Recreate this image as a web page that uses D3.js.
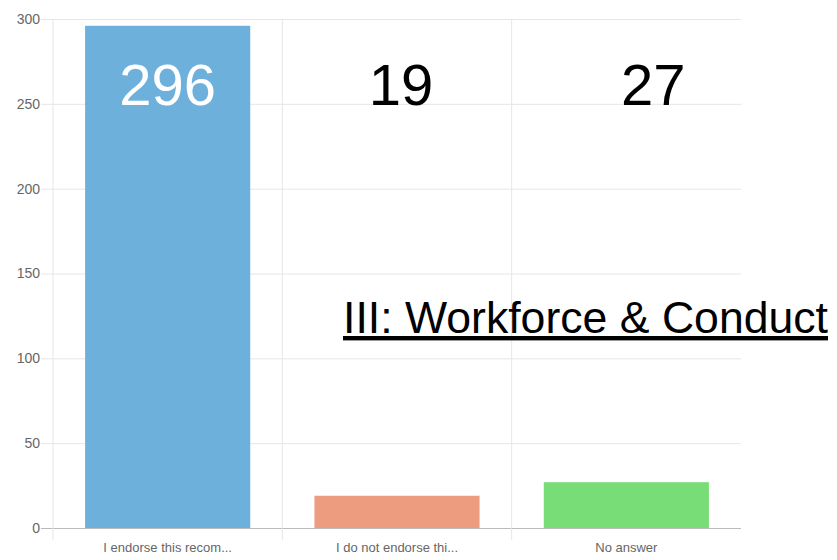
<!DOCTYPE html>
<html>
  <head>
    <meta charset='UTF-8'/>
    <script src="https://cdn.jsdelivr.net/npm/d3@7"></script>
    <style>
      body { margin: 0; background: white; }
      .tick text { font-family: "Liberation Sans", Arial, sans-serif; fill: #666; }
      .big { font-family: "Liberation Sans", Arial, sans-serif; font-size: 58px; }
      .title { font-family: "Liberation Sans", Arial, sans-serif; font-size: 44px; text-decoration: underline; }
    </style>
  </head>
  <body>
    <svg id='fig' width='837' height='560'></svg>
    <script>
      const categories = ["I endorse this recom...", "I do not endorse thi...", "No answer"]
      const counts = [296, 19, 27]
      const colors = ["#6cb0db", "#ee9c80", "#78dd76"]
      const yTicks = [0, 50, 100, 150, 200, 250, 300]
      const title = "III: Workforce & Conduct"

      const margin = {left: 53, right: 96, top: 19, bottom: 32}
      const width = 837, height = 560
      var svg = d3.select("#fig")

      var x = d3.scaleBand().domain(categories)
          .range([margin.left, width - margin.right])
          .paddingInner(0).paddingOuter(0)
      var y = d3.scaleLinear().domain([0, 300])
          .range([height - margin.bottom, margin.top])

      // horizontal grid
      svg.append("g")
        .attr("transform", `translate(${margin.left},0)`)
        .call(d3.axisLeft(y).tickValues(yTicks).tickSize(-(width - margin.left - margin.right)).tickPadding(4))
        .call(g => g.select(".domain").remove())
        .call(g => g.selectAll(".tick line").attr("stroke", d => d == 0 ? "#bbb" : "#e6e6e6").attr("x1", -12))
        .call(g => g.selectAll(".tick text").attr("font-size", 14).attr("x", -13))

      // vertical grid
      svg.append("g").selectAll("line")
        .data(categories)
        .join("line")
        .attr("x1", d => x(d)).attr("x2", d => x(d))
        .attr("y1", margin.top).attr("y2", height - margin.bottom + 12)
        .attr("stroke", "#e6e6e6")

      svg.append("g")
        .attr("transform", `translate(0,${height - margin.bottom})`)
        .call(d3.axisBottom(x).tickSize(0).tickPadding(15))
        .call(g => g.select(".domain").remove())
        .call(g => g.selectAll(".tick text").attr("font-size", 13))

      const bw = x.bandwidth() * 0.72
      svg.append("g").selectAll("rect")
        .data(categories)
        .join("rect")
        .attr("x", d => x(d) + (x.bandwidth() - bw) / 2)
        .attr("width", bw)
        .attr("y", (d, i) => y(counts[i]))
        .attr("height", (d, i) => y(0) - y(counts[i]))
        .attr("fill", (d, i) => colors[i])

      const labelShift = [0, 4, 27]
      svg.append("g").selectAll("text")
        .data(categories)
        .join("text")
        .attr("class", "big")
        .attr("text-anchor", "middle")
        .attr("x", (d, i) => x(d) + x.bandwidth() / 2 + labelShift[i])
        .attr("y", 105)
        .attr("fill", (d, i) => i == 0 ? "white" : "black")
        .text((d, i) => counts[i])

      svg.append("text")
        .attr("class", "title")
        .attr("x", 343)
        .attr("y", 333)
        .attr("textLength", 485)
        .attr("lengthAdjust", "spacingAndGlyphs")
        .text(title)
    </script>
  </body>
</html>
